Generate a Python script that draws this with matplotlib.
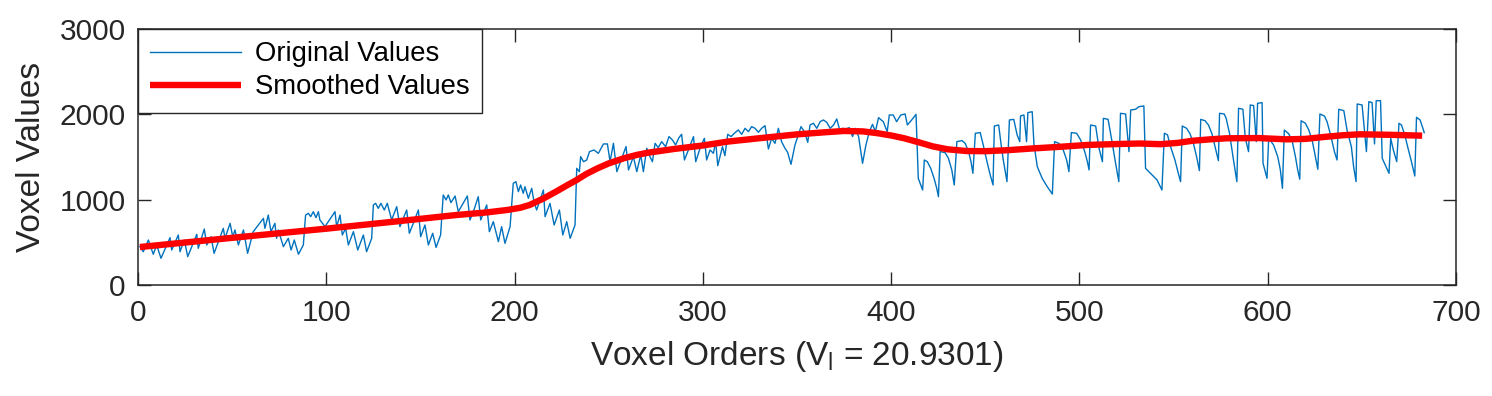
import matplotlib
matplotlib.use("Agg")
import matplotlib.pyplot as plt

# vertices of the raw voxel trace
orig_x = [
    1, 2.8, 5.5, 8.1, 9.9, 12.2, 17.0, 17.9, 21.4, 22.3, 24.6, 26.4, 31.2, 32.0,
    35.2, 36.5, 38.8, 40.4, 45.3, 46.2, 48.9, 50.3, 51.5, 53.3, 56.0, 58.2, 61.2,
    66.6, 67.4, 69.2, 70.6, 72.7, 73.6, 74.5, 77.2, 79.8, 81.3, 83.0, 85.2, 87.8,
    89.0, 90.5, 91.7, 93.1, 94.5, 95.8, 96.6, 99.3, 104.6, 105.5, 107.3, 108.5,
    110.3, 111.7, 114.4, 116.7, 119.7, 121.4, 124.1, 125.0, 126.2, 127.6, 129.0,
    130.8, 132.4, 134.7, 137.4, 139.1, 142.7, 144.1, 146.2, 148.9, 150.1, 152.4,
    154.2, 156.5, 158.3, 160.7, 162.1, 163.6, 164.8, 166.2, 168.4, 170.1, 174.9,
    176.3, 178.4, 180.7, 182.0, 185.2, 186.6, 188.7, 191.4, 193.1, 194.9, 197.6,
    199.3, 200.7, 202.0, 203.2, 204.6, 205.5, 207.3, 209.1, 210.3, 211.7, 215.3,
    216.2, 218.8, 221.0, 223.8, 225.6, 227.7, 229.5, 232.1, 233.0, 234.4, 235.1,
    236.6, 238.3, 239.8, 242.2, 244.5, 247.2, 249.3, 250.7, 252.5, 254.3, 256.9,
    259.2, 260.5, 263.1, 264.9, 267.0, 268.4, 270.2, 271.9, 273.2, 274.6, 276.3,
    278.1, 280.2, 282.0, 283.8, 285.5, 287.3, 288.7, 290.2, 292.3, 295.0, 296.2,
    298.5, 300.8, 302.0, 303.8, 305.6, 306.8, 307.9, 310.4, 311.7, 313.2, 315.0,
    316.7, 318.8, 320.6, 322.4, 324.2, 325.9, 327.7, 329.5, 331.2, 333.0, 334.8,
    336.5, 338.3, 340.1, 341.8, 343.6, 345.0, 346.8, 348.9, 350.7, 352.1, 353.9,
    355.7, 356.9, 358.7, 360.5, 362.3, 364.0, 365.8, 367.6, 369.4, 371.1, 372.9,
    374.1, 375.9, 377.7, 379.5, 380.9, 382.7, 384.8, 386.6, 388.4, 390.1, 391.6,
    393.3, 395.8, 397.9, 399.0, 401.1, 402.9, 405.1, 407.4, 408.6, 410.9, 413.2,
    414.4, 416.7, 417.6, 419.2, 421.0, 422.8, 424.2, 425.1, 426.0, 428.6, 430.4,
    432.2, 433.5, 434.9, 437.6, 439.3, 441.1, 442.4, 443.4, 444.7, 447.3, 449.1,
    450.9, 452.6, 454.1, 454.8, 457.1, 458.3, 459.4, 460.6, 461.5, 462.8, 465.1,
    466.9, 468.3, 468.7, 470.5, 471.9, 472.6, 474.9, 475.8, 477.6, 480.2, 482.9,
    485.6, 486.8, 489.1, 491.4, 493.2, 494.4, 495.7, 498.5, 500.6, 502.8, 504.2,
    505.1, 505.9, 508.6, 510.4, 512.2, 512.7, 515.2, 517.3, 519.0, 520.9, 521.8,
    524.5, 526.3, 527.2, 529.8, 531.6, 534.2, 535.1, 538.6, 541.2, 543.8, 545.1,
    546.8, 548.1, 550.7, 552.5, 553.7, 554.6, 556.9, 558.7, 560.5, 562.2, 563.7,
    564.4, 566.7, 568.5, 570.3, 572.0, 573.8, 574.4, 576.9, 577.9, 579.7, 581.8,
    583.6, 584.5, 586.8, 588.1, 589.8, 590.7, 592.5, 593.9, 594.6, 597.0, 597.5,
    599.6, 600.5, 603.1, 605.3, 606.7, 607.8, 608.8, 611.1, 612.9, 614.7, 615.9,
    617.0, 617.7, 620.0, 621.8, 623.6, 625.3, 626.6, 627.7, 630.1, 631.5, 633.6,
    635.4, 636.8, 637.7, 640.4, 642.1, 644.4, 645.6, 646.9, 647.5, 650.1, 652.4,
    653.7, 655.4, 656.7, 657.6, 659.9, 660.8, 664.4, 665.3, 666.7, 668.5, 669.7,
    671.0, 672.8, 674.5, 676.3, 678.1, 679.0, 680.9, 682.7, 683.1,
]
orig_y = [
    450, 390, 527, 360, 469, 313, 555, 410, 586, 390, 527, 332, 594, 430,
    656, 469, 566, 371, 664, 547, 723, 566, 645, 469, 645, 371, 625,
    781, 664, 820, 625, 723, 547, 645, 449, 547, 410, 527, 360, 469,
    820, 840, 801, 859, 789, 859, 762, 684, 859, 684, 820, 586,
    664, 469, 625, 410, 586, 390, 547, 938, 957, 898, 957,
    879, 957, 762, 918, 684, 879, 606, 723, 879, 566, 703,
    469, 606, 441, 586, 1055, 996, 1055, 965, 1043, 859, 1043,
    762, 879, 1035, 762, 938, 625, 742, 508, 684, 488, 684,
    1192, 1211, 1094, 1172, 1074, 1152, 1016, 1133, 977, 879, 1113,
    801, 957, 703, 879, 586, 742, 547, 703, 1367, 1328, 1504,
    1445, 1465, 1563, 1582, 1543, 1653, 1653, 1445, 1661, 1328, 1485,
    1622, 1348, 1504, 1328, 1524, 1328, 1602, 1504, 1445, 1660, 1610,
    1680, 1621, 1739, 1700, 1641, 1727, 1766, 1465, 1582, 1739, 1445,
    1602, 1719, 1465, 1582, 1543, 1680, 1398, 1621, 1516, 1766, 1739,
    1778, 1817, 1766, 1836, 1797, 1856, 1836, 1790, 1836, 1867, 1594,
    1719, 1660, 1836, 1680, 1602, 1555, 1414, 1641, 1758, 1856, 1797,
    1672, 1875, 1895, 1836, 1914, 1934, 1906, 1836, 1875, 1946, 1797,
    1836, 1828, 1844, 1739, 1836, 1739, 1426, 1641, 1797, 1883, 1797,
    1961, 1914, 1797, 1992, 1992, 1914, 1992, 2004, 1875, 1934, 2000,
    1250, 1113, 1465, 1445, 1367, 1250, 1133, 1035, 1563, 1552, 1485,
    1348, 1172, 1680, 1692, 1660, 1563, 1445, 1309, 1778, 1786, 1621,
    1445, 1290, 1172, 1863, 1875, 1660, 1485, 1328, 1211, 1934, 1941,
    1758, 1680, 1981, 1992, 1680, 2020, 2031, 1660, 1387, 1250, 1152,
    1066, 1680, 1660, 1582, 1465, 1328, 1786, 1778, 1700, 1563, 1445,
    1348, 1875, 1863, 1602, 1445, 1953, 1941, 1680, 1450, 1211, 2012,
    2004, 1563, 2051, 2059, 2090, 2098, 1367, 1290, 1231, 1113, 1778,
    1758, 1641, 1465, 1309, 1211, 1863, 1836, 1773, 1660, 1504, 1340,
    1941, 1925, 1875, 1777, 1621, 1457, 2012, 2004, 1953, 1777, 1465,
    1211, 2071, 2059, 1719, 1563, 2110, 2102, 1680, 2129, 2137, 1426,
    1250, 1719, 1641, 1504, 1348, 1133, 1816, 1773, 1695, 1504, 1348,
    1240, 1925, 1895, 1816, 1695, 1504, 1356, 2004, 1980, 1914, 1738,
    1563, 1465, 2059, 2043, 1816, 1621, 1387, 1211, 2121, 2110, 1563,
    2149, 2137, 1653, 2160, 2160, 1485, 1309, 1719, 1582, 1446, 1895,
    1875, 1758, 1602, 1446, 1277, 1965, 1934, 1816, 1785,
]

# smoothed trace
smooth_x = [1, 35, 69, 100, 135, 169, 185, 196, 203, 208, 215, 222, 228, 233,
            238, 244, 250, 258, 265, 271, 285, 300, 313, 330, 350, 365, 375,
            385, 393, 400, 407, 415, 422, 430, 440, 450, 462, 475, 490, 504,
            520, 532, 543, 552, 560, 570, 578, 595, 610, 620, 630, 640, 649,
            665, 682]
smooth_y = [445, 520, 594, 660, 740, 820, 850, 879, 905, 938, 1010, 1094, 1170,
            1231, 1300, 1367, 1425, 1485, 1525, 1551, 1595, 1635, 1680, 1720,
            1765, 1790, 1805, 1800, 1778, 1752, 1719, 1670, 1625, 1590, 1570,
            1568, 1580, 1600, 1620, 1641, 1652, 1658, 1650, 1665, 1690, 1708,
            1719, 1722, 1707, 1712, 1735, 1755, 1766, 1760, 1750]

x_ticks = [0, 100, 200, 300, 400, 500, 600, 700]
y_ticks = [0, 1000, 2000, 3000]

plt.rcParams['font.family'] = ['Liberation Sans', 'DejaVu Sans']
plt.rcParams['mathtext.fontset'] = 'custom'
plt.rcParams['mathtext.rm'] = 'Liberation Sans'
plt.rcParams['mathtext.it'] = 'Liberation Sans'

ink = "#262626"

fig = plt.figure(figsize=(14.92, 3.96), dpi=100)
ax = fig.add_axes([0.0925, 0.2803, 0.8834, 0.6465])

ax.plot(orig_x, orig_y, color="#0072BD", linewidth=1.0, label="Original Values")
ax.plot(smooth_x, smooth_y, color="#FF0000", linewidth=4.6, label="Smoothed Values",
        solid_joinstyle="round", solid_capstyle="butt")

ax.set_xlim(0, 700)
ax.set_ylim(0, 3000)
ax.set_xticks(x_ticks)
ax.set_yticks(y_ticks)
ax.tick_params(direction="in", length=9.5, width=1.0, colors=ink, labelsize=21.5,
               top=True, right=True)
ax.tick_params(axis="x", pad=10)
ax.tick_params(axis="y", pad=9)
for s in ax.spines.values():
    s.set_color(ink)
    s.set_linewidth(1.1)

ax.set_xlabel(r"Voxel Orders (V$_\mathregular{l}$ = 20.9301)", fontsize=24, color=ink,
              labelpad=9)
ax.set_ylabel("Voxel Values", fontsize=24, color=ink, labelpad=9)

leg = ax.legend(loc="upper left", fontsize=19.8, frameon=True, fancybox=False,
                borderaxespad=0, handlelength=3.3, handletextpad=0.5,
                borderpad=0.45, labelspacing=0.25)
leg.get_frame().set_edgecolor(ink)
leg.get_frame().set_linewidth(1.0)
leg.get_frame().set_alpha(1)

fig.savefig("out.png", dpi=100)
